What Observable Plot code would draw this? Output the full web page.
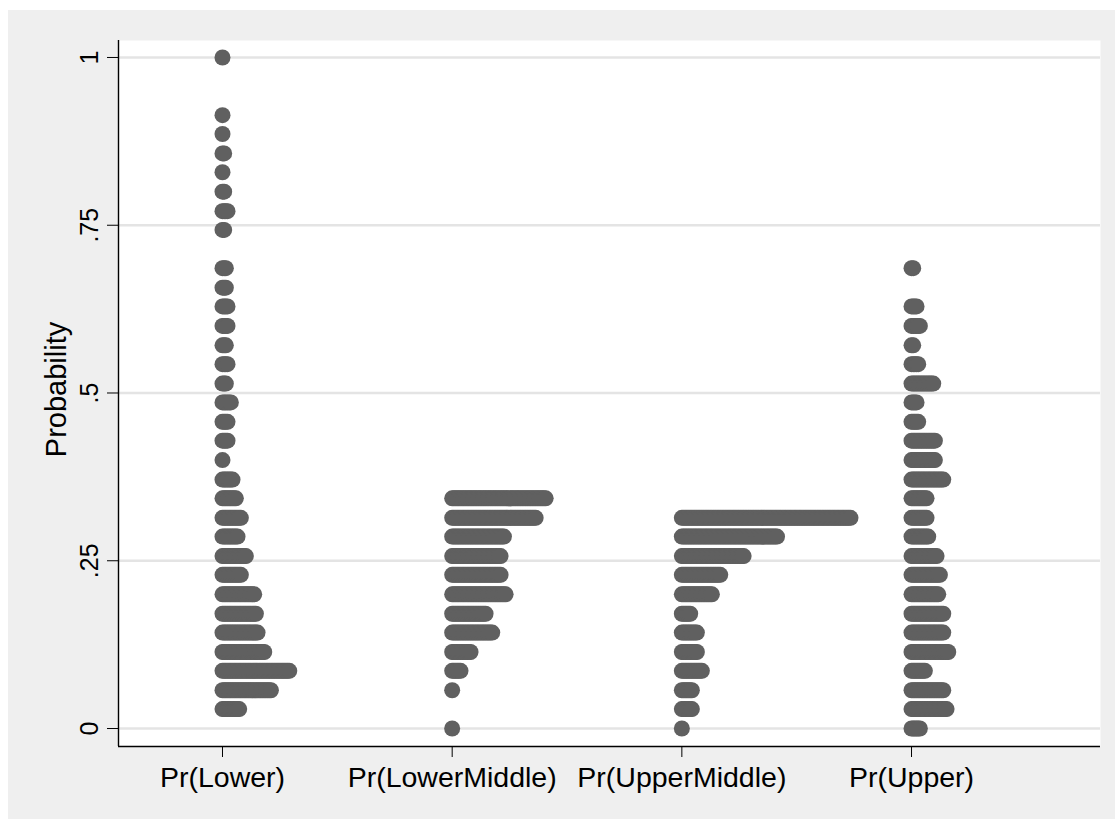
<!DOCTYPE html>
<html>
<head>
<meta charset="utf-8">
<script src="https://cdn.jsdelivr.net/npm/d3@7"></script>
<script src="https://cdn.jsdelivr.net/npm/@observablehq/plot@0.6"></script>
<style>
  html, body { margin: 0; padding: 0; background: #ffffff; }
  #chart { position: absolute; left: 8px; top: 10px; }
</style>
</head>
<body>
<div id="chart"></div>
<script>
// Categories (x axis)
const categories = ["Pr(Lower)", "Pr(LowerMiddle)", "Pr(UpperMiddle)", "Pr(Upper)"];

// Y tick values and labels
const yTicks = [0, 0.25, 0.5, 0.75, 1];
const yTickLabels = ["0", ".25", ".5", ".75", "1"];

// Pr(Lower): bin values and number of stacked dots
const lowerY = [1, .914, .886, .857, .829, .8, .771, .743, .686, .657, .629, .6, .571, .543, .514, .486, .457, .429, .4, .371, .343, .314, .286, .257, .229, .2, .171, .143, .114, .086, .057, .029];
const lowerN = [1, 1, 1, 2, 1, 2, 4, 2, 3, 3, 4, 4, 3, 4, 3, 6, 4, 4, 1, 7, 9, 12, 10, 15, 12, 20, 21, 22, 26, 41, 30, 11];

// Pr(LowerMiddle)
const lowerMiddleY = [.343, .314, .286, .257, .229, .2, .171, .143, .114, .086, .057, 0];
const lowerMiddleN = [57, 51, 32, 30, 30, 33, 21, 25, 12, 6, 1, 1];

// Pr(UpperMiddle)
const upperMiddleY = [.314, .286, .257, .229, .2, .171, .143, .114, .086, .057, .029, 0];
const upperMiddleN = [102, 58, 38, 24, 19, 6, 10, 10, 13, 7, 7, 1];

// Pr(Upper)
const upperY = [.686, .629, .6, .571, .543, .514, .486, .457, .429, .4, .371, .343, .314, .286, .257, .229, .2, .171, .143, .114, .086, .057, .029, 0];
const upperN = [2, 4, 6, 2, 5, 14, 4, 5, 15, 15, 20, 10, 10, 11, 16, 18, 17, 20, 20, 23, 9, 20, 22, 6];

const series = [
  [lowerY, lowerN],
  [lowerMiddleY, lowerMiddleN],
  [upperMiddleY, upperMiddleN],
  [upperY, upperN]
];

// Expand to one record per dot
const dots = [];
series.forEach(([ys, ns], col) => {
  ys.forEach((y, j) => {
    for (let i = 0; i < ns[j]; i++) dots.push({col, i, y});
  });
});

const xDomain = [-0.4528, 3.8228];
const yDomain = [-0.0268, 1.0253];
const dotStep = 0.00727; // horizontal offset between stacked dots, in column units

const font = "'Liberation Sans', Arial, Helvetica, sans-serif";

const chart = Plot.plot({
  width: 1107,
  height: 809,
  marginLeft: 110,
  marginTop: 30,
  marginRight: 15,
  marginBottom: 73,
  x: {domain: xDomain},
  y: {domain: yDomain},
  style: {background: "#efefef", fontFamily: font, color: "black", overflow: "visible"},
  marks: [
    Plot.frame({fill: "white", stroke: "none"}),
    Plot.gridY(yTicks, {stroke: "#e4e4e4", strokeOpacity: 1, strokeWidth: 2.5}),
    Plot.dot(dots, {
      x: d => d.col + d.i * dotStep,
      y: "y",
      r: 8,
      fill: "#606060",
      stroke: "none"
    }),
    Plot.axisY(yTicks, {
      tickFormat: (d, i) => yTickLabels[i],
      tickSize: 11,
      tickRotate: -90,
      tickPadding: 10,
      fontSize: 25,
      label: null
    }),
    Plot.axisX([0, 1, 2, 3], {
      tickFormat: d => categories[d],
      tickSize: 11,
      tickPadding: 9,
      fontSize: 28.5,
      label: null
    }),
    Plot.text(["Probability"], {
      text: d => d,
      frameAnchor: "left",
      textAnchor: "middle",
      rotate: -90,
      dx: -73,
      dy: -4,
      lineAnchor: "top",
      fontSize: 29,
      fill: "black"
    }),
    Plot.ruleX([xDomain[0]], {stroke: "black", strokeWidth: 1.4}),
    Plot.ruleY([yDomain[0]], {stroke: "black", strokeWidth: 1.4})
  ]
});

document.getElementById("chart").appendChild(chart);
</script>
</body>
</html>
